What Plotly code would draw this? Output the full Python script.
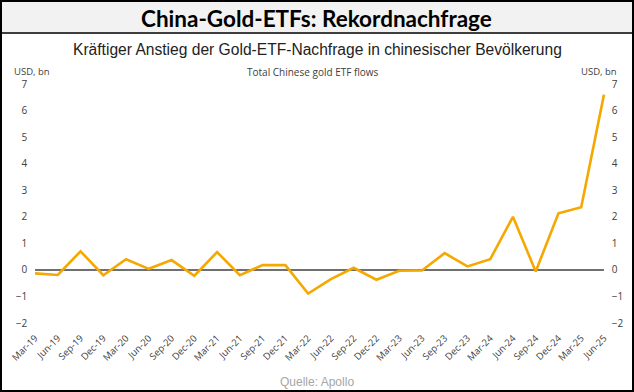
import plotly.graph_objects as go

quarters = ["Mar-19", "Jun-19", "Sep-19", "Dec-19", "Mar-20", "Jun-20", "Sep-20", "Dec-20",
            "Mar-21", "Jun-21", "Sep-21", "Dec-21", "Mar-22", "Jun-22", "Sep-22", "Dec-22",
            "Mar-23", "Jun-23", "Sep-23", "Dec-23", "Mar-24", "Jun-24", "Sep-24", "Dec-24",
            "Mar-25", "Jun-25"]
flows = [-0.13, -0.19, 0.70, -0.20, 0.40, 0.04, 0.37, -0.22,
         0.67, -0.20, 0.18, 0.18, -0.89, -0.35, 0.08, -0.37,
         -0.03, -0.02, 0.63, 0.13, 0.40, 2.00, -0.06, 2.13,
         2.36, 6.60]
y_ticks = [-2, -1, 0, 1, 2, 3, 4, 5, 6, 7]

W, H = 634, 392
x_idx = list(range(len(quarters)))

fig = go.Figure()
fig.add_trace(go.Scatter(x=x_idx, y=flows, mode="lines",
                         line=dict(color="#F5A800", width=2.6), showlegend=False,
                         hoverinfo="skip"))
fig.add_trace(go.Scatter(x=x_idx, y=flows, mode="lines", yaxis="y2",
                         line=dict(color="rgba(0,0,0,0)", width=0), showlegend=False,
                         hoverinfo="skip"))

tickfont = dict(family="Open Sans, DejaVu Sans, sans-serif", size=10, color="#404040")

def px_x(p):
    return p / W

def px_y(p):
    return 1 - p / H

fig.update_layout(
    width=W, height=H,
    margin=dict(l=0, r=0, t=0, b=0),
    paper_bgcolor="white", plot_bgcolor="white",
    xaxis=dict(domain=[px_x(28.2), px_x(610.8)], range=[-0.3, 25.3],
               tickmode="array", tickvals=x_idx, ticktext=quarters, tickangle=-45,
               showgrid=False, zeroline=False, showline=False,
               ticks="outside", ticklen=5, tickcolor="rgba(0,0,0,0)",
               tickfont=dict(family="Open Sans, DejaVu Sans, sans-serif", size=9.5, color="#404040"),
               automargin=False),
    yaxis=dict(domain=[px_y(323), px_y(84)], range=[-2, 7], tickvals=y_ticks,
               showgrid=False, zeroline=False, showline=False, tickfont=tickfont,
               automargin=False),
    yaxis2=dict(domain=[px_y(323), px_y(84)], range=[-2, 7], tickvals=y_ticks, overlaying="y",
                side="right", anchor="x",
                showgrid=False, zeroline=False, showline=False, tickfont=tickfont,
                automargin=False),
)

# zero line across the data extent
fig.add_shape(type="line", xref="x", yref="y", x0=0, x1=len(quarters) - 1, y0=0, y1=0,
              line=dict(color="#404040", width=1.5), layer="below")

# title band & border
fig.add_shape(type="rect", xref="paper", yref="paper", x0=0, x1=1, y0=px_y(33), y1=1,
              fillcolor="#F2F2F2", line=dict(width=0), layer="below")
fig.add_shape(type="line", xref="paper", yref="paper", x0=0, x1=1, y0=px_y(33), y1=px_y(33),
              line=dict(color="black", width=1.5))
fig.add_shape(type="rect", xref="paper", yref="paper", x0=px_x(1), x1=px_x(633), y0=px_y(391), y1=px_y(1),
              line=dict(color="black", width=2), fillcolor="rgba(0,0,0,0)")

fig.add_annotation(text="<b>China-Gold-ETFs: Rekordnachfrage</b>", xref="paper", yref="paper",
                   x=px_x(316.5), y=px_y(18), xanchor="center", yanchor="middle", showarrow=False,
                   font=dict(family="Lato, sans-serif", size=22.5, color="black"))
fig.add_annotation(text="Kräftiger Anstieg der Gold-ETF-Nachfrage in chinesischer Bevölkerung",
                   xref="paper", yref="paper", x=px_x(317.5), y=px_y(49), xanchor="center", yanchor="middle",
                   showarrow=False, font=dict(family="Liberation Sans, Arial, sans-serif", size=15.6, color="#222222"))
fig.add_annotation(text="Total Chinese gold ETF flows", xref="paper", yref="paper",
                   x=px_x(313), y=px_y(72), xanchor="center", yanchor="middle", showarrow=False,
                   font=dict(family="Open Sans, sans-serif", size=10, color="#404040"))
fig.add_annotation(text="USD, bn", xref="paper", yref="paper",
                   x=px_x(12), y=px_y(71), xanchor="left", yanchor="middle", showarrow=False,
                   font=dict(family="Open Sans, sans-serif", size=9.5, color="#404040"))
fig.add_annotation(text="USD, bn", xref="paper", yref="paper",
                   x=px_x(619), y=px_y(71), xanchor="right", yanchor="middle", showarrow=False,
                   font=dict(family="Open Sans, sans-serif", size=9.5, color="#404040"))
fig.add_annotation(text="Quelle: Apollo", xref="paper", yref="paper",
                   x=px_x(317), y=px_y(382), xanchor="center", yanchor="middle", showarrow=False,
                   font=dict(family="Liberation Sans, Arial, sans-serif", size=12, color="#A6A6A6"))

fig.write_html("out.html", config={"displayModeBar": False, "staticPlot": True},
               post_script="document.body.style.margin='0';document.body.style.padding='0';"
                           "document.body.style.overflow='hidden';")
